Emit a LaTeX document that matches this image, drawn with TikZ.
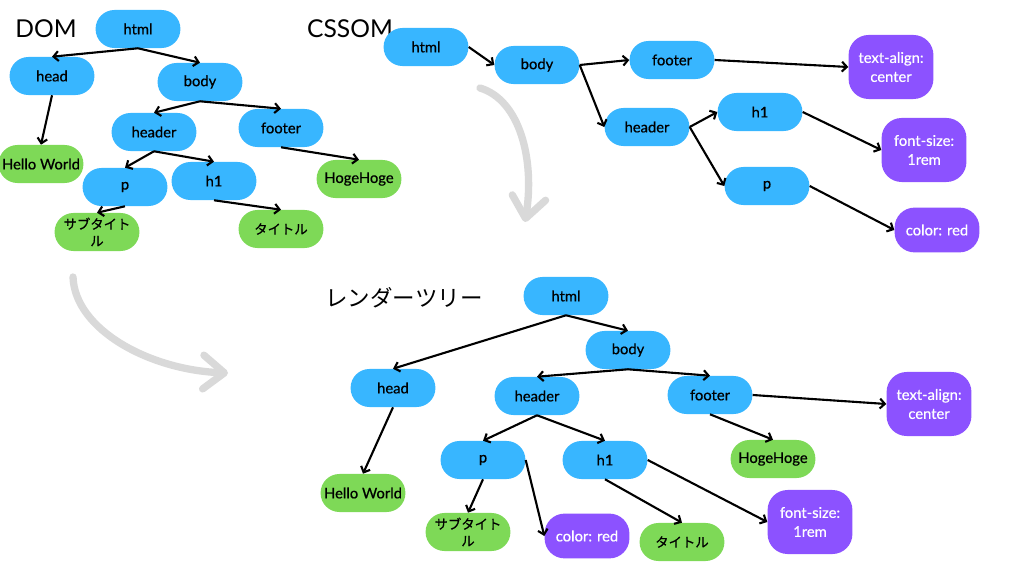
\documentclass[tikz,border=0pt]{standalone}
\usepackage{fontspec}
\setmainfont{Lato}
\newfontfamily\nodefont{Lato}[FakeBold=0.6]
\newfontfamily\cjk{Noto Sans CJK JP}
\newfontfamily\cjknode{Noto Sans CJK JP}[FakeBold=0.5]
\usetikzlibrary{arrows.meta}
\definecolor{tagblue}{HTML}{38B6FF}
\definecolor{txtgreen}{HTML}{7ED957}
\definecolor{proppurple}{HTML}{8C52FF}
\definecolor{flowgrey}{HTML}{D9D9D9}

\begin{document}
\begin{tikzpicture}[x=0.025cm,y=-0.025cm,
	elem/.style={rounded corners=4.7mm,minimum width=21.2mm,minimum height=9.5mm,inner sep=1pt,align=center,font=\nodefont\fontsize{10.5}{12}\selectfont},
	tag/.style={elem,fill=tagblue},
	txt/.style={elem,fill=txtgreen},
	jp/.style={font=\cjknode\fontsize{9.5}{12}\selectfont},
	prop/.style={elem,fill=proppurple,text=white,rounded corners=5mm,minimum height=11.2mm},
	prop2/.style={prop,minimum height=16mm,font=\nodefont\fontsize{10.5}{13.5}\selectfont},
	edge/.style={line width=1.5pt,-{Straight Barb[length=3.5pt,width=7pt]}},
	flow/.style={line width=5.2pt,draw=flowgrey,line cap=round,-{Straight Barb[length=15pt,width=24pt,round]}},
	title/.style={font=\fontsize{17.5}{20}\selectfont}]
		\useasboundingbox (0,0) rectangle (1024,576);
		\draw[flow] (480,88) .. controls (520,100) and (535,160) .. (525,222);
		\draw[flow] (73,277) .. controls (75,330) and (150,370) .. (228,373);
		\node[title] (domt) at (46,29) {DOM};
		\node[tag] (d-html) at (138,29) {html};
		\node[tag] (d-head) at (52,76) {head};
		\node[tag] (d-body) at (200,82) {body};
		\node[tag] (d-header) at (154,132) {header};
		\node[tag] (d-footer) at (281,128) {footer};
		\node[txt] (d-hello) at (41,164) {Hello World};
		\node[tag] (d-p) at (125,187) {p};
		\node[tag] (d-h1) at (214,181) {h1};
		\node[txt] (d-hoge) at (359,179) {HogeHoge};
		\node[txt,jp] (d-sub) at (97,232) {サブタイト\\ル};
		\node[txt,jp] (d-title) at (281,229) {タイトル};
		\foreach \a/\b in {html/head,html/body,head/hello,body/header,body/footer,header/p,header/h1,footer/hoge,p/sub,h1/title}
		\draw[edge] (d-\a.south) -- (d-\b.north);
		\node[title] (cssomt) at (350,29) {CSSOM};
		\node[tag] (c-html) at (426,47) {html};
		\node[tag] (c-body) at (537,65) {body};
		\node[tag] (c-footer) at (672,60) {footer};
		\node[prop2] (c-align) at (891,67) {text-align:\\center};
		\node[tag] (c-header) at (647,127) {header};
		\node[tag] (c-h1) at (760,112) {h1};
		\node[tag] (c-p) at (767,186) {p};
		\node[prop2] (c-size) at (924,150) {font-size:\\1rem};
		\node[prop] (c-color) at (937,230) {color: red};
		\foreach \a/\b in {html/body,body/footer,body/header,footer/align,header/h1,header/p,h1/size,p/color}
		\draw[edge] (c-\a.east) -- (c-\b.west);
		\node[font=\cjk\fontsize{16}{20}\selectfont] (rendert) at (404,298) {レンダーツリー};
		\node[tag] (r-html) at (566,296) {html};
		\node[tag] (r-body) at (628,350) {body};
		\node[tag] (r-head) at (393,388) {head};
		\node[tag] (r-header) at (537,396) {header};
		\node[tag] (r-footer) at (710,395) {footer};
		\node[prop2] (r-align) at (929,404) {text-align:\\center};
		\node[txt] (r-hello) at (363,493) {Hello World};
		\node[tag] (r-p) at (483,460) {p};
		\node[tag] (r-h1) at (605,460) {h1};
		\node[txt] (r-hoge) at (773,459) {HogeHoge};
		\node[txt,jp] (r-sub) at (468,532) {サブタイト\\ル};
		\node[prop] (r-color) at (587,536) {color: red};
		\node[txt,jp] (r-title) at (682,542) {タイトル};
		\node[prop2] (r-size) at (810,522) {font-size:\\1rem};
		\foreach \a/\b in {html/head,html/body,head/hello,body/header,body/footer,header/p,header/h1,footer/hoge,p/sub,h1/title}
		\draw[edge] (r-\a.south) -- (r-\b.north);
		\draw[edge] (r-p.east) -- (r-color.west);
		\draw[edge] (r-h1.east) -- (r-size.west);
		\draw[edge] (r-footer.east) -- (r-align.west);
\end{tikzpicture}
\end{document}
